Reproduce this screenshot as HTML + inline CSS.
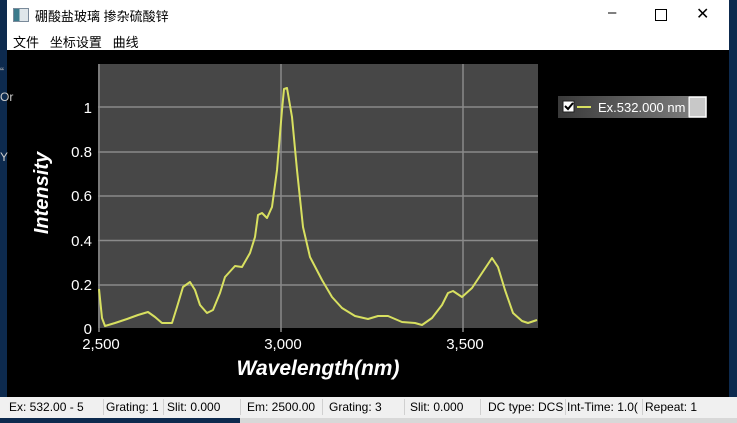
<!DOCTYPE html>
<html><head><meta charset="utf-8"><style>
body{margin:0;width:737px;height:423px;overflow:hidden;background:#0d2a4e;font-family:"Liberation Sans","Noto Sans CJK SC",sans-serif;position:relative}
.abs{position:absolute}
.sb span{position:absolute;top:3px;font-size:12px;color:#000;white-space:nowrap}
.sep{position:absolute;top:2px;width:1px;height:16px;background:#d0d0d0}
</style></head><body>
<div class="abs" style="left:7px;top:0;width:722px;height:50px;background:#fff"></div>
<div class="abs" style="left:13px;top:8px;width:14px;height:12px;border:1px solid #7a8a9a;background:linear-gradient(90deg,#3b7a8c 40%,#dfe6ea 40%)"></div>
<div class="abs" style="left:35px;top:6px;font-size:13px;color:#000">硼酸盐玻璃 掺杂硫酸锌</div>
<div class="abs" style="left:608px;top:4px;font-size:15px;color:#000">–</div>
<div class="abs" style="left:655px;top:9px;width:10px;height:10px;border:1px solid #000"></div>
<div class="abs" style="left:696px;top:4px;font-size:16px;color:#000">✕</div>
<div class="abs" style="left:13px;top:32px;font-size:13px;color:#000">文件 &nbsp;&nbsp;坐标设置 &nbsp;&nbsp;曲线</div>
<div class="abs" style="left:7px;top:50px;width:722px;height:347px;background:#000"></div>
<div class="abs" style="left:0;top:65px;color:#bbb;font-size:12px">“</div>
<div class="abs" style="left:0;top:90px;color:#ccc;font-size:12px">Or</div>
<div class="abs" style="left:0;top:150px;color:#ccc;font-size:12px">Y</div>
<div class="abs sb" style="left:0;top:397px;width:737px;height:21px;background:#f0f0f0">
<span style="left:9px">Ex: 532.00 - 5</span><div class="sep" style="left:103px"></div>
<span style="left:106px">Grating: 1</span><div class="sep" style="left:163px"></div>
<span style="left:167px">Slit: 0.000</span><div class="sep" style="left:240px"></div>
<span style="left:247px">Em: 2500.00</span><div class="sep" style="left:322px"></div>
<span style="left:329px">Grating: 3</span><div class="sep" style="left:404px"></div>
<span style="left:410px">Slit: 0.000</span><div class="sep" style="left:480px"></div>
<span style="left:488px">DC type: DCS</span><div class="sep" style="left:565px"></div>
<span style="left:567px">Int-Time: 1.0(</span><div class="sep" style="left:642px"></div>
<span style="left:645px">Repeat: 1</span>
</div>
<div class="abs" style="left:240px;top:418px;width:497px;height:5px;background:#d8d8d8"></div>
<svg class="abs" style="left:0;top:0" width="737" height="423">
<rect x="98" y="64" width="440" height="264" fill="#474747"/>
<g stroke="#8a8a8a" stroke-width="1.5">
<line x1="98" x2="538" y1="285" y2="285"/><line x1="98" x2="538" y1="240.5" y2="240.5"/>
<line x1="98" x2="538" y1="196" y2="196"/><line x1="98" x2="538" y1="152" y2="152"/>
<line x1="98" x2="538" y1="107" y2="107"/>
<line x1="281" x2="281" y1="64" y2="332"/><line x1="463" x2="463" y1="64" y2="332"/>
<line x1="99" x2="99" y1="64" y2="332"/>
</g>
<g fill="#fff" font-size="15" text-anchor="end" font-family="Liberation Sans,sans-serif">
<text x="92" y="334">0</text><text x="92" y="290">0.2</text><text x="92" y="246">0.4</text>
<text x="92" y="201">0.6</text><text x="92" y="157">0.8</text><text x="92" y="113">1</text>
</g>
<g fill="#fff" font-size="15" text-anchor="middle" font-family="Liberation Sans,sans-serif">
<text x="101" y="349">2,500</text><text x="283" y="349">3,000</text><text x="465" y="349">3,500</text>
</g>
<text x="318" y="375" fill="#fff" font-size="21" font-weight="bold" font-style="italic" text-anchor="middle" font-family="Liberation Sans,sans-serif">Wavelength(nm)</text>
<text transform="translate(48,193) rotate(-90)" fill="#fff" font-size="20" font-weight="bold" font-style="italic" text-anchor="middle" font-family="Liberation Sans,sans-serif">Intensity</text>
<polyline fill="none" stroke="#d8e060" stroke-width="2" stroke-linejoin="round" points="99,289 102,318 105,326 115,323 127,319 138,315 148,312 155,317 162,323 172,323 177,307 183,287 190,282 195,290 200,305 207,313 213,310 220,293 225,277 235,266 242,267 250,253 255,237 258,215 262,213 267,218 272,207 277,170 282,110 284,89 287,88 292,117 297,170 303,227 310,257 322,280 332,297 342,308 355,316 368,319 378,316 388,316 402,322 415,323 422,325 432,318 442,305 448,293 453,291 462,297 472,288 482,273 492,258 498,267 505,290 513,313 522,321 528,323 537,320"/>
<defs><linearGradient id="g" x1="0" x2="1"><stop offset="0" stop-color="#3a3a3a"/><stop offset="1" stop-color="#7a7a7a"/></linearGradient></defs>
<rect x="558" y="96" width="130" height="22" fill="url(#g)"/>
<rect x="563" y="101" width="11" height="11" fill="#fff" stroke="#222"/>
<path d="M565 106 l3 3 l5 -6" stroke="#000" stroke-width="2" fill="none"/>
<line x1="577" x2="591" y1="107" y2="107" stroke="#d8e060" stroke-width="2"/>
<text x="598" y="112" fill="#fff" font-size="13" font-family="Liberation Sans,sans-serif">Ex.532.000 nm</text>
<rect x="689" y="97" width="17" height="20" fill="#c8c8c8" stroke="#fff" stroke-width="1.5"/>
</svg>
</body></html>
